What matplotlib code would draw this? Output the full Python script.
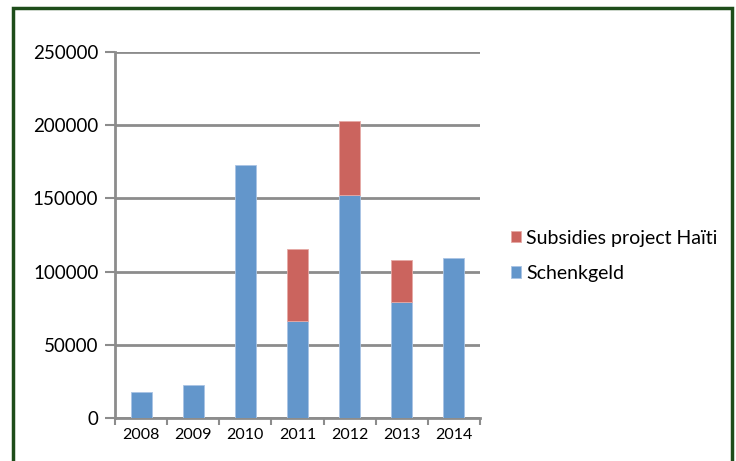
import matplotlib.pyplot as plt
import matplotlib.patches as mpatches
import numpy as np

years = ["2008", "2009", "2010", "2011", "2012", "2013", "2014"]
schenkgeld = [18000, 22500, 172500, 66000, 152000, 79000, 109500]
subsidies = [0, 0, 0, 49500, 51000, 29000, 0]

plt.rcParams["font.family"] = ["Lato", "DejaVu Sans"]

W, H = 736, 461
fig = plt.figure(figsize=(W / 100, H / 100), dpi=100)
ax = fig.add_axes([115 / W, 1 - 418 / H, 365 / W, 366 / H])

x = np.arange(len(years))
sch = np.array(schenkgeld)
sub = np.array(subsidies)
has_sub = sub > 0
blue = "#6396CB"
red = "#CB645E"
ax.bar(x, sch, width=0.4, color=blue, edgecolor="#a9c4e4", linewidth=0.6,
       label="Schenkgeld", zorder=3)
ax.bar(x[has_sub], sub[has_sub], width=0.4, bottom=sch[has_sub], color=red,
       edgecolor="#e6a9a5", linewidth=0.6, label="Subsidies project Haïti", zorder=3)

ax.set_xlim(-0.5, len(years) - 0.5)
ax.set_ylim(0, 250000)
ax.set_yticks(range(0, 250001, 50000))
ax.set_yticklabels([str(v) for v in range(0, 250001, 50000)], fontsize=13.5)
ax.yaxis.grid(True, color="#8c8c8c", linewidth=2, zorder=0)
ax.set_axisbelow(True)

ax.set_xticks(x)
ax.set_xticklabels(years, fontsize=11.5)
ax.set_xticks(np.arange(-0.5, len(years), 1), minor=True)
ax.tick_params(axis="x", which="major", length=0, pad=7)
ax.tick_params(axis="x", which="minor", length=5, width=1.5, color="#8c8c8c")
ax.tick_params(axis="y", length=7, width=1.5, color="#8c8c8c", pad=5)

for s in ["top", "right"]:
    ax.spines[s].set_visible(False)
for s in ["left", "bottom"]:
    ax.spines[s].set_color("#8c8c8c")
    ax.spines[s].set_linewidth(2)

h, l = ax.get_legend_handles_labels()
fig.legend(h[::-1], l[::-1], loc="upper left", bbox_to_anchor=(493 / W, 1 - 212 / H),
           frameon=False, fontsize=14, handlelength=0.55, handleheight=0.55,
           handletextpad=0.25, labelspacing=0.95)

fig.patches.append(mpatches.Rectangle((13 / W, -0.1), 719 / W, 1.1 - 8 / H,
                                      transform=fig.transFigure, fill=False,
                                      edgecolor="#1e4d1a", linewidth=2.5))

fig.savefig("out.png", dpi=100)
